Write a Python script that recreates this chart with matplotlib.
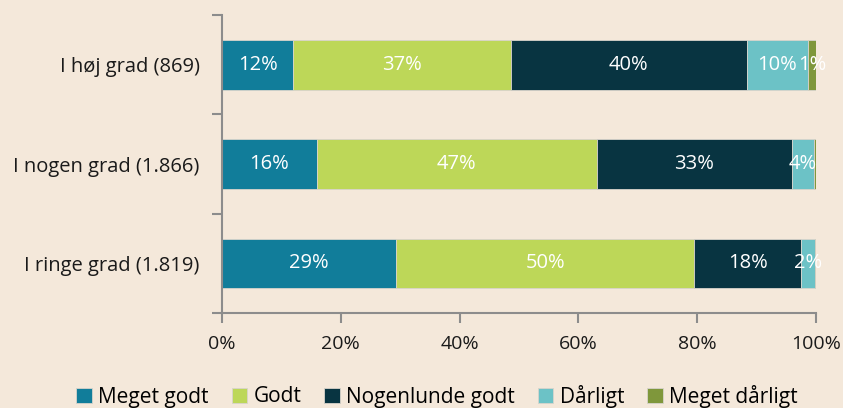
import numpy as np
import matplotlib
matplotlib.use("Agg")
import matplotlib.pyplot as plt

plt.rcParams['font.family'] = ['Open Sans', 'DejaVu Sans']

# Data (percent of each row)
categories = ['I høj grad (869)', 'I nogen grad (1.866)', 'I ringe grad (1.819)']
series_names = ['Meget godt', 'Godt', 'Nogenlunde godt', 'Dårligt', 'Meget dårligt']
meget_godt = [12.0, 16.0, 29.3]
godt = [36.7, 47.1, 50.2]
nogenlunde = [39.6, 32.8, 18.0]
daarligt = [10.3, 3.8, 2.3]
meget_daarligt = [1.4, 0.3, 0.2]
colors = ['#117d9a', '#bdd758', '#083441', '#6cc2c6', '#7f973b']

bg = '#f4e8da'
values = [meget_godt, godt, nogenlunde, daarligt, meget_daarligt]

fig = plt.figure(figsize=(8.43, 4.08), dpi=100, facecolor=bg)
ax = fig.add_axes([222 / 843, 1 - 313 / 408, 594 / 843, 298 / 408])
ax.set_facecolor(bg)

y = np.arange(len(categories))
left = np.zeros(len(categories))
for name, vals, col in zip(series_names, values, colors):
    vals = np.array(vals)
    ax.barh(y, vals, left=left, height=0.5, color=col, label=name,
            edgecolor='#d8d4cc', linewidth=0.6)
    for i, v in enumerate(vals):
        if round(v) >= 1:
            ax.text(left[i] + v / 2, y[i], f'{round(v):.0f}%', ha='center', va='center',
                    color='white', fontsize=14.5)
    left += vals

ax.set_xlim(0, 100)
ax.set_ylim(2.5, -0.5)
ax.set_xticks(np.arange(0, 101, 20))
ax.set_xticklabels([f'{v}%' for v in range(0, 101, 20)], fontsize=14, color='#1a1a1a')
ax.set_yticks([-0.5, 0.5, 1.5, 2.5])
ax.set_yticklabels([])
ax.set_yticks(y, minor=True)
ax.set_yticklabels(categories, minor=True, fontsize=14.5, color='#1a1a1a')
ax.tick_params(axis='y', which='minor', length=0, pad=16)
ax.tick_params(axis='y', which='major', length=7, width=1.5, color='#8c8c8c', direction='out')
ax.tick_params(axis='x', length=7, width=1.5, color='#8c8c8c', direction='out', pad=9)

for s in ['top', 'right']:
    ax.spines[s].set_visible(False)
for s in ['left', 'bottom']:
    ax.spines[s].set_color('#8c8c8c')
    ax.spines[s].set_linewidth(1.5)

fig.legend(loc='center', bbox_to_anchor=(437 / 843, 1 - 396 / 408), ncol=5, frameon=False,
           fontsize=15, handlelength=0.75, handleheight=0.75, handletextpad=0.3,
           columnspacing=1.1)

fig.savefig('out.png', dpi=100, facecolor=bg)
